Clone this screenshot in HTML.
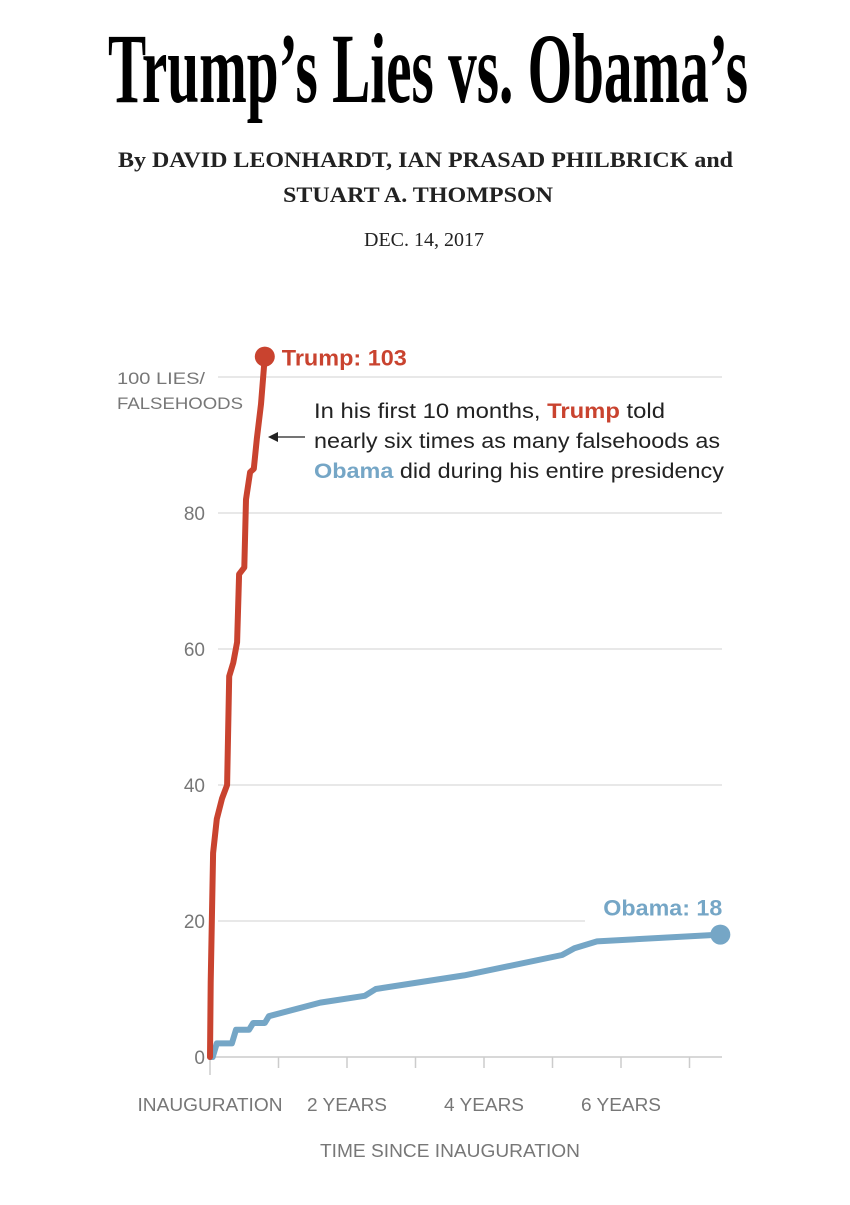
<!DOCTYPE html>
<html><head><meta charset="utf-8"><style>
body{margin:0;background:#fff}
svg text{font-family:"Liberation Sans",sans-serif}
</style></head><body>
<svg id="c" width="850" height="1200" viewBox="0 0 850 1200">
<text x="428" y="102" text-anchor="middle" font-size="100" font-weight="bold" textLength="640" lengthAdjust="spacingAndGlyphs" style="font-family:'Liberation Serif',serif">Trump’s Lies vs. Obama’s</text>
<text x="118" y="167" font-size="22" font-weight="bold" fill="#222" textLength="615" lengthAdjust="spacingAndGlyphs" style="font-family:'Liberation Serif',serif">By DAVID LEONHARDT, IAN PRASAD PHILBRICK and</text>
<text x="283" y="202" font-size="22" font-weight="bold" fill="#222" textLength="270" lengthAdjust="spacingAndGlyphs" style="font-family:'Liberation Serif',serif">STUART A. THOMPSON</text>
<text x="424" y="246" text-anchor="middle" font-size="20" fill="#222" style="font-family:'Liberation Serif',serif">DEC. 14, 2017</text>
<g id="grid"></g><g id="axis"></g><g id="lines"></g>
<text x="117" y="384" font-size="17" fill="#777" textLength="88" lengthAdjust="spacingAndGlyphs">100 LIES/</text>
<text x="117" y="409" font-size="17" fill="#777" textLength="126" lengthAdjust="spacingAndGlyphs">FALSEHOODS</text>
<g font-size="21" fill="#222">
<text x="314" y="418" textLength="351" lengthAdjust="spacingAndGlyphs">In his first 10 months, <tspan fill="#c9432f" font-weight="bold">Trump</tspan> told</text>
<text x="314" y="448" textLength="406" lengthAdjust="spacingAndGlyphs">nearly six times as many falsehoods as</text>
<text x="314" y="478" textLength="410" lengthAdjust="spacingAndGlyphs"><tspan fill="#75a6c6" font-weight="bold">Obama</tspan> did during his entire presidency</text>
<line x1="305" y1="437" x2="276" y2="437" stroke="#222" stroke-width="1.3"/>
<polygon points="268,437 278,432 278,442" fill="#222"/>
</g>
<text x="450" y="1157" text-anchor="middle" font-size="18" fill="#777" textLength="260" lengthAdjust="spacingAndGlyphs">TIME SINCE INAUGURATION</text>
</svg>
<script>
const yTicks=[0,20,40,60,80,100];
const xTickLabels=["INAUGURATION","2 YEARS","4 YEARS","6 YEARS"];
const xTickLabelYears=[0,2,4,6];
const xTickYears=[0,1,2,3,4,5,6,7];
const trumpYears=[0,0.01,0.045,0.1,0.175,0.25,0.28,0.34,0.395,0.425,0.5,0.525,0.585,0.64,0.685,0.745,0.8];
const trumpValues=[0,11,30,35,38,40,56,58,61,71,72,82,86,86.5,91,96,103];
const obamaYears=[0,0.04,0.1,0.32,0.38,0.57,0.63,0.8,0.86,1.61,2.26,2.42,3.71,5.14,5.32,5.65,7.45];
const obamaValues=[0,0,2,2,4,4,5,5,6,8,9,10,12,15,16,17,18];
const X=t=>210+68.5*t, Y=v=>1057-6.8*v;
const NS="http://www.w3.org/2000/svg";
function mk(p,tag,a){const e=document.createElementNS(NS,tag);for(const k in a)e.setAttribute(k,a[k]);document.getElementById(p).appendChild(e);return e;}
yTicks.forEach(v=>{
  const l=mk('grid','line',{x1:v==0?210:218,x2:v==20?585:722,y1:Y(v),y2:Y(v),stroke:v==0?'#ccc':'#e0e0e0','stroke-width':1.5});
  
  
  if(v!==100){const t=mk('axis','text',{x:205,y:Y(v)+7,'text-anchor':'end','font-size':19,fill:'#777'});t.textContent=v;
  
  }
});
xTickYears.forEach(t=>{const l=mk('axis','line',{x1:X(t),x2:X(t),y1:1057,y2:t==0?1075:1068,stroke:'#ccc','stroke-width':1.5});
  
  });
xTickLabels.forEach((s,i)=>{const t=mk('axis','text',{x:X(xTickLabelYears[i]),y:1111,'text-anchor':'middle','font-size':18,fill:'#777'});t.textContent=s;
  t.setAttribute('textLength',i==0?145:80);
  t.setAttribute('lengthAdjust','spacingAndGlyphs');
  
  });
function series(ys,vs,col,name){
  const d=ys.map((t,i)=>(i?'L':'M')+X(t).toFixed(1)+','+Y(vs[i]).toFixed(1)).join('');
  const p=mk('lines','path',{d:d,fill:'none',stroke:col,'stroke-width':6,'stroke-linejoin':'round','stroke-linecap':'round'});
  
  
  const n=ys.length-1;
  const c=mk('lines','circle',{cx:X(ys[n]),cy:Y(vs[n]),r:10,fill:col});
  
  
}
series(obamaYears,obamaValues,'#75a6c6','obama');
series(trumpYears,trumpValues,'#c9432f','trump');
const tl=mk('lines','text',{x:X(trumpYears[trumpYears.length-1])+17,y:Y(trumpValues[trumpValues.length-1])+9,'font-size':22,'font-weight':'bold',fill:'#c9432f',textLength:125,lengthAdjust:'spacingAndGlyphs'});
tl.textContent='Trump: '+trumpValues[trumpValues.length-1];


const ol=mk('lines','text',{x:X(obamaYears[obamaYears.length-1])+2,y:Y(obamaValues[obamaValues.length-1])-19,'text-anchor':'end','font-size':22,'font-weight':'bold',fill:'#75a6c6',textLength:119,lengthAdjust:'spacingAndGlyphs'});
ol.textContent='Obama: '+obamaValues[obamaValues.length-1];


</script>
</body></html>
